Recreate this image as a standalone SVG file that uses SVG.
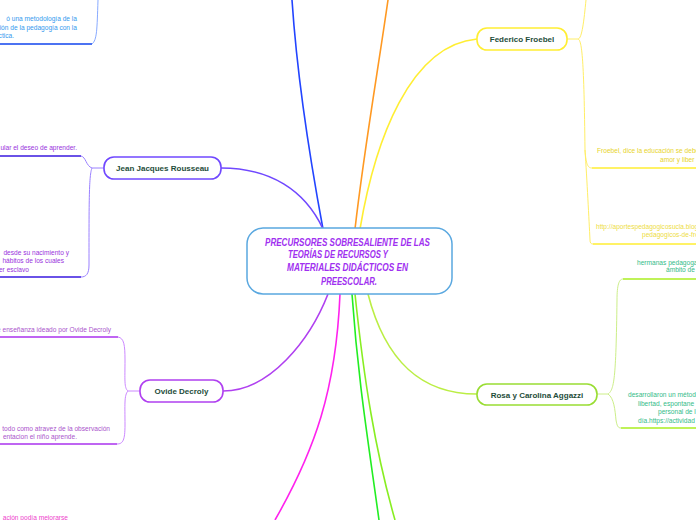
<svg xmlns="http://www.w3.org/2000/svg" width="696" height="520" viewBox="0 0 696 520">
<style>
.node rect{fill:#fff;stroke-width:1.6}
.node text{font-family:"Liberation Sans",Arial,sans-serif;font-weight:bold;font-size:8px;fill:#1e4d3a;text-anchor:middle}
.c{fill:none;stroke-width:1.6}
.b{fill:none;stroke-width:1}
.u{fill:none;stroke-width:1.5}
.t{font-family:"Liberation Sans",Arial,sans-serif;font-size:6.6px}
.center text{font-family:"Liberation Sans",Arial,sans-serif;font-weight:bold;font-style:italic;font-size:10px;fill:#a030f0}
</style>
<rect width="696" height="520" fill="#fff"/>
<g id="connectors">
<!-- main -->
<path class="c" stroke="#2244ff" d="M323,229 C312,170 298,90 292,0"/>
<path class="c" stroke="#ff9922" d="M355,229 C364,150 378,70 388,0"/>
<path class="c" stroke="#ffee33" d="M360,229 C375,140 410,45 477,39"/>
<path class="c" stroke="#7048ff" d="M323,229 C305,190 270,168 221,168"/>
<path class="c" stroke="#b040f0" d="M328,294 C310,340 270,391 223,391"/>
<path class="c" stroke="#ff22ee" d="M340,294 C336,390 315,450 275,520"/>
<path class="c" stroke="#22ee22" d="M352,294 C358,380 368,440 379,520"/>
<path class="c" stroke="#88ee22" d="M355,294 C364,380 375,450 395,520"/>
<path class="c" stroke="#bbee44" d="M368,294 C385,360 420,394 477,394"/>
<!-- branches -->
<path class="b" stroke="#88aaff" d="M92,44 C97,40 97,30 98,0"/>
<path class="b" stroke="#ffee66" d="M567,39 L578,39 C582,39 584,20 586,0 M578,39 C582,40 584,60 585,150 C586,165 588,168 592,168 M585,150 C587,180 589,220 590,240 C590,243 591,244 593,244"/>
<path class="b" stroke="#9a80ff" d="M104,168 L92,168 C86,166 86,157 81,156 M92,168 C89,175 89,200 89,265 C89,274 86,277 81,277"/>
<path class="b" stroke="#cc88ff" d="M140,391 L128,391 C124,388 125,380 125,360 C125,345 124,338 118,337 M128,391 C124,395 125,405 125,425 C125,440 123,444 117,444"/>
<path class="b" stroke="#ccee88" d="M597,394 L608,394 C614,390 616,380 617,300 C617,285 619,279 623,279 M608,394 C614,398 615,410 616,420 C617,426 618,428 621,428"/>
<!-- underlines -->
<path class="u" stroke="#1144ee" d="M0,44 L92,44"/>
<path class="u" stroke="#ffee33" d="M592,168 L696,168 M593,244 L696,244"/>
<path class="u" stroke="#3a1ae0" d="M0,156 L81,156 M0,277 L81,277"/>
<path class="u" stroke="#aa33ee" d="M0,337 L118,337 M0,444 L117,444"/>
<path class="u" stroke="#aaee22" d="M623,279 L696,279 M621,428 L696,428"/>
</g>
<g id="center" class="center">
<rect x="247" y="228" width="205" height="66" rx="16" fill="#fff" stroke="#5aa8e0" stroke-width="1.5"/>
<text x="265" y="246" textLength="165" lengthAdjust="spacingAndGlyphs">PRECURSORES SOBRESALIENTE DE LAS</text>
<text x="288" y="258" textLength="100" lengthAdjust="spacingAndGlyphs">TEORÍAS DE RECURSOS  Y</text>
<text x="287" y="271" textLength="121" lengthAdjust="spacingAndGlyphs">MATERIALES DIDÁCTICOS EN</text>
<text x="321" y="285" textLength="56" lengthAdjust="spacingAndGlyphs">PREESCOLAR.</text>
</g>
<g id="froebel" class="node">
<rect x="477" y="28" width="90" height="22" rx="10" stroke="#ffee33"/>
<text x="522" y="42">Federico Froebel</text>
</g>
<g id="rousseau" class="node">
<rect x="104" y="157" width="117" height="22" rx="10" stroke="#7048ff"/>
<text x="162.5" y="171">Jean Jacques Rousseau</text>
</g>
<g id="decroly" class="node">
<rect x="140" y="380" width="83" height="22" rx="10" stroke="#b040f0"/>
<text x="181.5" y="394">Ovide Decroly</text>
</g>
<g id="aggazzi" class="node">
<rect x="477" y="384" width="120" height="21" rx="10" stroke="#99dd33"/>
<text x="537" y="397.5">Rosa y Carolina Aggazzi</text>
</g>
<g id="blue-child" class="t" fill="#3399ee">
<text x="77" y="21" text-anchor="end">ó una metodología de la</text>
<text x="77" y="30" text-anchor="end">ción de la pedagogía con la</text>
<text x="14" y="38" text-anchor="end">ctica.</text>
</g>
<g id="froebel-child1" class="t" fill="#e8d42a">
<text x="597" y="153">Froebel, dice la educación se debe</text>
<text x="660" y="162">amor y liber</text>
</g>
<g id="froebel-child2" class="t" fill="#eedd44">
<text x="596" y="229">http://aportespedagogicosucla.blogs</text>
<text x="642" y="237">pedagogicos-de-fro</text>
</g>
<g id="rousseau-child1" class="t" fill="#9933dd">
<text x="77" y="150" text-anchor="end">ular el deseo de aprender.</text>
</g>
<g id="rousseau-child2" class="t" fill="#9933dd">
<text x="69" y="255" text-anchor="end">desde su nacimiento y</text>
<text x="64" y="263" text-anchor="end">hábitos de los cuales</text>
<text x="29" y="272" text-anchor="end">er esclavo</text>
</g>
<g id="decroly-child1" class="t" fill="#aa55cc">
<text x="111" y="332" text-anchor="end">e enseñanza ideado por Ovide Decroly</text>
</g>
<g id="decroly-child2" class="t" fill="#aa55cc">
<text x="110" y="431" text-anchor="end">todo como atravez de la observación</text>
<text x="77" y="439" text-anchor="end">entacion el niño aprende.</text>
</g>
<g id="magenta-child" class="t" fill="#ee44cc">
<text x="68" y="520" text-anchor="end">ación podía mejorarse</text>
</g>
<g id="aggazzi-child1" class="t" fill="#33bb88">
<text x="637" y="265">hermanas pedagogas</text>
<text x="666" y="272">ámbito de</text>
</g>
<g id="aggazzi-child2" class="t" fill="#33bb88">
<text x="628" y="397">desarrollaron un método</text>
<text x="638" y="405.5">libertad, espontane</text>
<text x="658" y="414">personal de l</text>
<text x="638" y="422.5">día.https://actividad</text>
</g>
</svg>
